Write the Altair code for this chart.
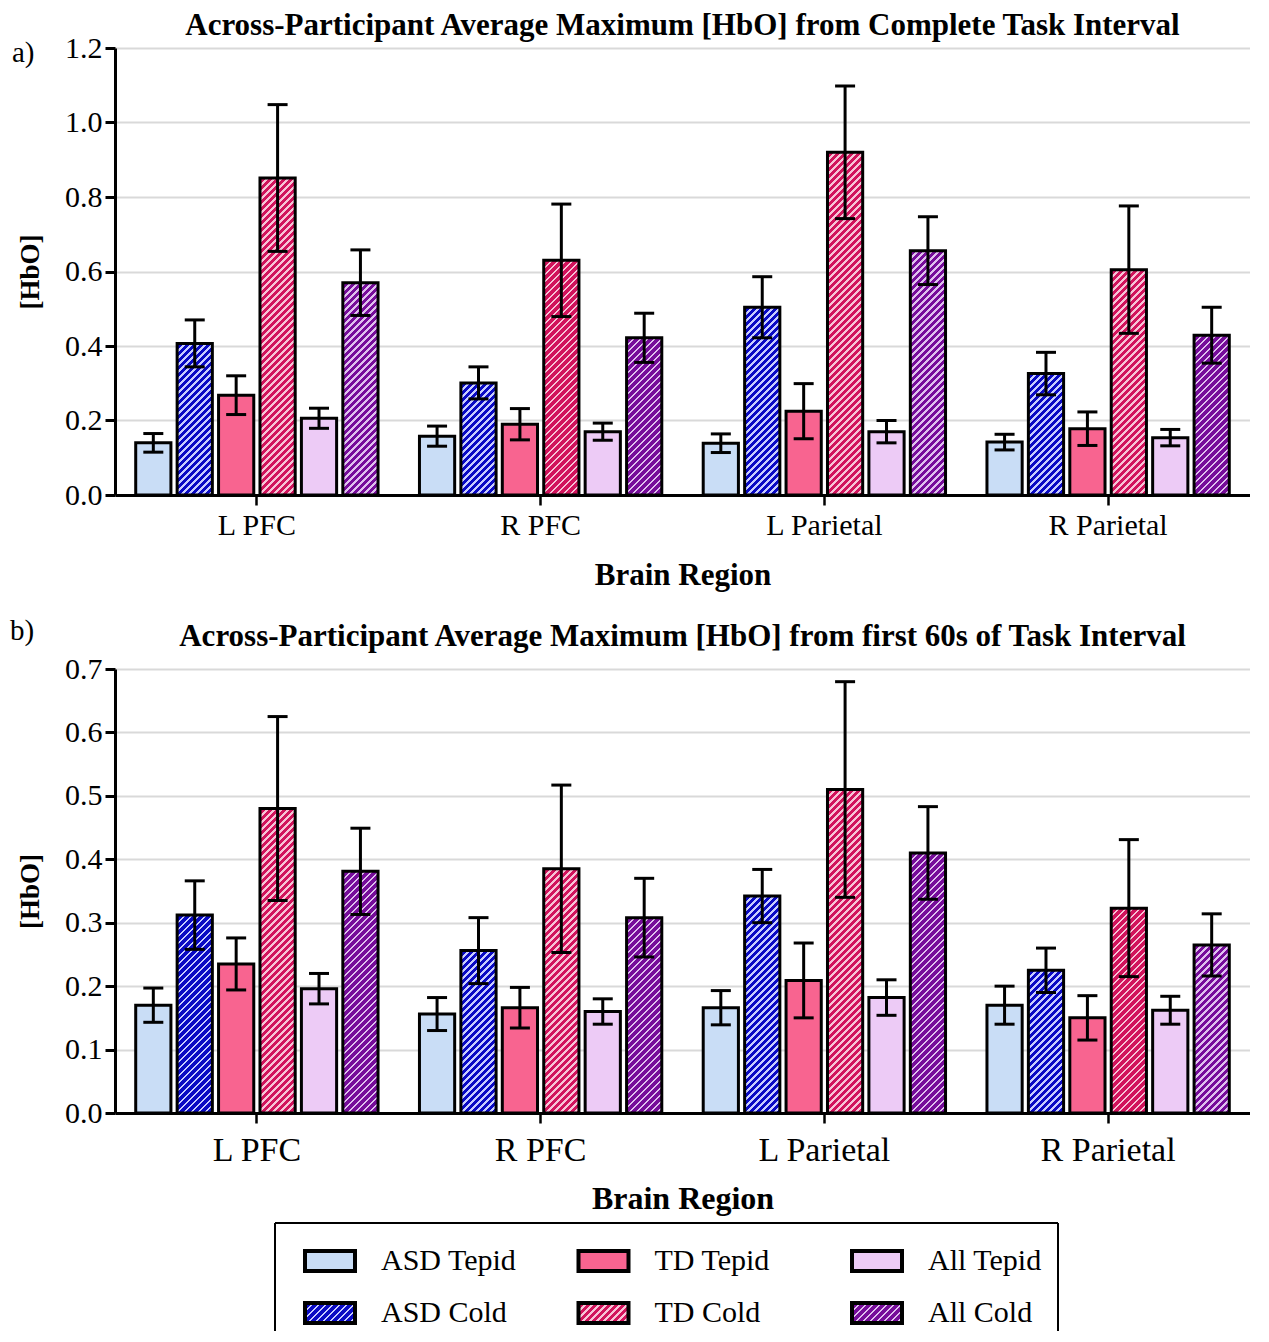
import altair as alt

FONT = "Liberation Serif"

regions = ["L PFC", "R PFC", "L Parietal", "R Parietal"]
series = ["ASD Tepid", "ASD Cold", "TD Tepid", "TD Cold", "All Tepid", "All Cold"]

# Panel a: complete task interval (means and error half-widths, per region)
a_vals = {
    "ASD Tepid": [0.140, 0.158, 0.139, 0.142],
    "ASD Cold": [0.407, 0.301, 0.504, 0.326],
    "TD Tepid": [0.268, 0.190, 0.225, 0.178],
    "TD Cold": [0.851, 0.630, 0.920, 0.605],
    "All Tepid": [0.206, 0.170, 0.170, 0.154],
    "All Cold": [0.570, 0.422, 0.656, 0.429],
}
a_errs = {
    "ASD Tepid": [0.025, 0.027, 0.025, 0.021],
    "ASD Cold": [0.063, 0.043, 0.082, 0.057],
    "TD Tepid": [0.052, 0.042, 0.074, 0.045],
    "TD Cold": [0.197, 0.151, 0.178, 0.171],
    "All Tepid": [0.027, 0.023, 0.030, 0.022],
    "All Cold": [0.088, 0.066, 0.091, 0.075],
}
# Panel b: first 60 s of task interval
b_vals = {
    "ASD Tepid": [0.170, 0.156, 0.166, 0.170],
    "ASD Cold": [0.312, 0.256, 0.342, 0.225],
    "TD Tepid": [0.235, 0.166, 0.209, 0.150],
    "TD Cold": [0.480, 0.385, 0.510, 0.323],
    "All Tepid": [0.196, 0.160, 0.182, 0.162],
    "All Cold": [0.381, 0.308, 0.410, 0.265],
}
b_errs = {
    "ASD Tepid": [0.027, 0.026, 0.027, 0.030],
    "ASD Cold": [0.054, 0.052, 0.042, 0.035],
    "TD Tepid": [0.041, 0.032, 0.059, 0.035],
    "TD Cold": [0.145, 0.132, 0.170, 0.108],
    "All Tepid": [0.024, 0.020, 0.028, 0.022],
    "All Cold": [0.068, 0.062, 0.073, 0.049],
}

a_ticks = [0.0, 0.2, 0.4, 0.6, 0.8, 1.0, 1.2]
b_ticks = [0.0, 0.1, 0.2, 0.3, 0.4, 0.5, 0.6, 0.7]

title_a = "Across-Participant Average Maximum [HbO] from Complete Task Interval"
title_b = "Across-Participant Average Maximum [HbO] from first 60s of Task Interval"

leg_labels = ["ASD Tepid", "TD Tepid", "All Tepid", "ASD Cold", "TD Cold", "All Cold"]
leg_col = [0, 1, 2, 0, 1, 2]
leg_row = [0, 0, 0, 1, 1, 1]

base_colors = {
    "ASD Tepid": "#c9ddf6", "ASD Cold": "#0a0ac4",
    "TD Tepid": "#f86490", "TD Cold": "#d1135c",
    "All Tepid": "#edcbf6", "All Cold": "#760c9a",
}
stripe_colors = {"ASD Cold": "#c8ccff", "TD Cold": "#f7c3d6", "All Cold": "#dfc0ee"}

W = 1135
HA, HB = 447, 444
YMAX_A, YMAX_B = 1.2, 0.7
PAD_IN, PAD_OUT = 0.15, 0.5
band = W / len(regions)
step = band / (len(series) - PAD_IN + 2 * PAD_OUT)
BAR_W = step * (1 - PAD_IN)


def hatch(w, h, base, stripe, period=7.0, line=2.6):
    """Diagonal '/' stripes as a linear gradient in bounding-box units."""
    L = w + h
    c = L / (w * w + h * h)
    stops = []
    k = 0
    while k * period < L:
        a = k * period / L
        b = min((k * period + line) / L, 1.0)
        e = min((k + 1) * period / L, 1.0)
        stops += [
            {"offset": round(a, 5), "color": stripe},
            {"offset": round(b, 5), "color": stripe},
            {"offset": round(b, 5), "color": base},
            {"offset": round(e, 5), "color": base},
        ]
        k += 1
    return {"gradient": "linear", "x1": 0, "y1": 0,
            "x2": round(c * w, 5), "y2": round(c * h, 5), "stops": stops}


def panel(vals, errs, ymax, H, ticks, title, xtitle, xl_size, xl_pad, xt_size, xt_pad, t_offset, tags):
    rows = []
    for s in series:
        for i, r in enumerate(regions):
            v = vals[s][i]
            e = errs[s][i]
            if s in stripe_colors:
                f = hatch(BAR_W, v / ymax * H, base_colors[s], stripe_colors[s])
            else:
                f = base_colors[s]
            rows.append({"region": r, "series": s, "value": v,
                         "lo": v - e, "hi": v + e, "fill": f})
    data = alt.Data(values=rows)

    x = alt.X("region:N", sort=regions,
              scale=alt.Scale(paddingInner=0, paddingOuter=0),
              axis=alt.Axis(title=xtitle, labelAngle=0, labelFont=FONT, labelFontSize=xl_size,
                            labelColor="black", labelPadding=xl_pad, tickSize=10, tickWidth=2.5,
                            tickColor="black", domainColor="black", domainWidth=3,
                            titleFont=FONT, titleFontSize=xt_size, titleFontWeight="bold",
                            titleColor="black", titlePadding=xt_pad))
    xo = alt.XOffset("series:N", sort=series,
                     scale=alt.Scale(paddingInner=PAD_IN, paddingOuter=PAD_OUT))
    ys = alt.Scale(domain=[0, ymax], nice=False, zero=True)
    ya = alt.Axis(values=ticks, format=".1f", title="[HbO]", labelFont=FONT, labelFontSize=30,
                  labelColor="black", labelPadding=3, tickSize=10, tickWidth=3, tickColor="black",
                  domainColor="black", domainWidth=3, grid=True, gridColor="#d9d9d9", gridWidth=2,
                  titleFont=FONT, titleFontSize=27, titleFontWeight="bold", titleColor="black",
                  titlePadding=20)

    bars = alt.Chart(data).mark_bar(stroke="black", strokeWidth=3).encode(
        x=x, xOffset=xo,
        y=alt.Y("value:Q", scale=ys, axis=ya, stack=None),
        fill=alt.Fill("fill:N", scale=None),
    )
    rules = alt.Chart(data).mark_rule(color="black", strokeWidth=3).encode(
        x=x, xOffset=xo, y=alt.Y("lo:Q", scale=ys, axis=ya), y2="hi:Q")
    cap_hi = alt.Chart(data).mark_tick(color="black", thickness=3, size=20, opacity=1).encode(
        x=x, xOffset=xo, y=alt.Y("hi:Q", scale=ys, axis=ya))
    cap_lo = alt.Chart(data).mark_tick(color="black", thickness=3, size=20, opacity=1).encode(
        x=x, xOffset=xo, y=alt.Y("lo:Q", scale=ys, axis=ya))

    layers = [bars, rules, cap_hi, cap_lo]
    for t, tx, ty in tags:
        layers.append(
            alt.Chart(alt.Data(values=[{"t": t}])).mark_text(
                font=FONT, fontSize=29, align="left", baseline="middle", color="black"
            ).encode(text="t:N", x=alt.value(tx), y=alt.value(ty))
        )
    return alt.layer(*layers).properties(
        width=W, height=H,
        title=alt.TitleParams(title, font=FONT, fontSize=31, fontWeight="bold", color="black",
                              anchor="middle", frame="group", offset=t_offset),
    )


pa = panel(a_vals, a_errs, YMAX_A, HA, a_ticks, title_a, "Brain Region", 30, 5, 31, 20, -9,
           [("a)", -103, 5), ("b)", -105, HA + 136)])
pb = panel(b_vals, b_errs, YMAX_B, HB, b_ticks, title_b, "Brain  Region", 34, 10, 32, 16, 1, [])

# Legend
LEG_H = 44
leg_rows = []
for lab, c, r in zip(leg_labels, leg_col, leg_row):
    f = hatch(50, 20, base_colors[lab], stripe_colors[lab]) if lab in stripe_colors else base_colors[lab]
    leg_rows.append({"label": lab, "col": c, "row": r, "fill": f})
leg_data = alt.Data(values=leg_rows)
lx = alt.X("col:O", scale=alt.Scale(type="point", range=[215, 762], padding=0), axis=None)
ly = alt.Y("row:O", scale=alt.Scale(type="point", range=[-26, 26], padding=0), axis=None)
sym = alt.Chart(leg_data).mark_point(
    shape="M-1,-0.4L1,-0.4L1,0.4L-1,0.4Z", size=2500, filled=True, opacity=1,
    stroke="black", strokeWidth=4).encode(x=lx, y=ly, fill=alt.Fill("fill:N", scale=None))
txt = alt.Chart(leg_data).mark_text(
    font=FONT, fontSize=30, align="left", baseline="middle", dx=51, color="black"
).encode(x=lx, y=ly, text="label:N")
one = alt.Data(values=[{"k": 1}])
box_top = alt.Chart(one).mark_rule(color="black", strokeWidth=2).encode(
    x=alt.value(160), x2=alt.value(943), y=alt.value(-64))
box_l = alt.Chart(one).mark_rule(color="black", strokeWidth=2).encode(
    x=alt.value(160), y=alt.value(-64), y2=alt.value(LEG_H))
box_r = alt.Chart(one).mark_rule(color="black", strokeWidth=2).encode(
    x=alt.value(943), y=alt.value(-64), y2=alt.value(LEG_H))
leg = alt.layer(box_top, box_l, box_r, sym, txt).properties(width=W, height=LEG_H)

chart = alt.vconcat(pa, pb, leg, spacing=174, bounds="flush").properties(
    padding={"left": 2, "top": 2, "right": 0, "bottom": 0}
).configure_view(stroke=None)

chart.save("out.html", embed_options={"renderer": "svg", "actions": False})
